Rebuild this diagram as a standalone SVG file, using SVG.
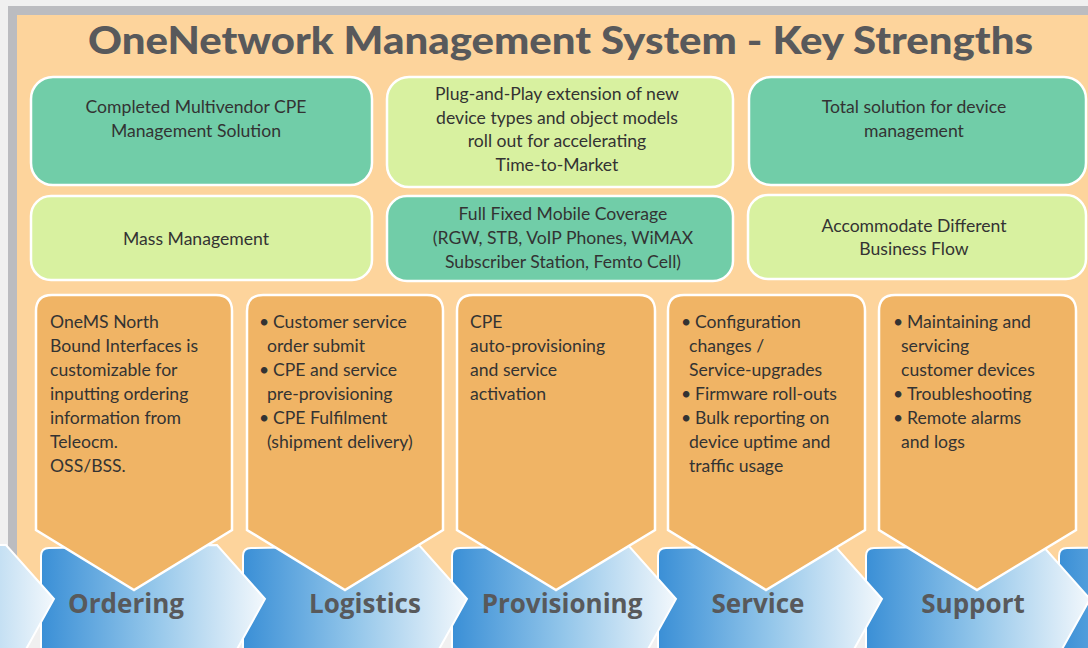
<svg xmlns="http://www.w3.org/2000/svg" width="1088" height="648" viewBox="0 0 1088 648">
<style>
.box{stroke:#ffffff;stroke-width:2.5}
.teal{fill:#71cda8}
.lime{fill:#d8f1a0}
.pent{fill:#f0b465;stroke:#ffffff;stroke-width:2.5}
.chev{fill:url(#blueGrad);stroke:#ffffff;stroke-width:2}
.t{font-family:Lato,"Open Sans",sans-serif;font-size:17.6px;fill:#333333}
.c{text-anchor:middle}
.lbl{font-family:"Open Sans","Liberation Sans",sans-serif;font-weight:bold;font-size:26px;fill:#58595b;text-anchor:middle}
.title{font-family:Lato,"Open Sans",sans-serif;font-weight:900;font-size:37px;fill:#58595b}
</style>
<defs>
<linearGradient id="blueGrad" x1="0" y1="0" x2="1" y2="0">
<stop offset="0" stop-color="#3a8fd6"/>
<stop offset="0.5" stop-color="#93c6ea"/>
<stop offset="1" stop-color="#f3f8fc"/>
</linearGradient>
</defs>
<rect x="0" y="0" width="1088" height="648" fill="#f0f0f0"/>
<rect x="8" y="6" width="1080" height="600" fill="#bbbcc0"/>
<rect x="17" y="15" width="1071" height="590" fill="#fdd49c"/>
<text class="title" x="88" y="54" textLength="945" lengthAdjust="spacingAndGlyphs">OneNetwork Management System - Key Strengths</text>

<g id="box-multivendor">
<rect class="box teal" x="31" y="77" width="341" height="108" rx="22"/>
<text class="t c" x="196" y="113">Completed Multivendor CPE</text>
<text class="t c" x="196" y="137">Management Solution</text>
</g>
<g id="box-plugandplay">
<rect class="box lime" x="387" y="77" width="346" height="110" rx="22"/>
<text class="t c" x="557" y="100">Plug-and-Play extension of new</text>
<text class="t c" x="557" y="123.5">device types and object models</text>
<text class="t c" x="557" y="147">roll out for accelerating</text>
<text class="t c" x="557" y="170.5">Time-to-Market</text>
</g>
<g id="box-total">
<rect class="box teal" x="749" y="77" width="337" height="108" rx="22"/>
<text class="t c" x="914" y="113">Total solution for device</text>
<text class="t c" x="914" y="137">management</text>
</g>
<g id="box-mass">
<rect class="box lime" x="31" y="196" width="341" height="84" rx="20"/>
<text class="t c" x="196" y="245">Mass Management</text>
</g>
<g id="box-coverage">
<rect class="box teal" x="387" y="196" width="346" height="85" rx="20"/>
<text class="t c" x="563" y="220">Full Fixed Mobile Coverage</text>
<text class="t c" x="563" y="244">(RGW, STB, VoIP Phones, WiMAX</text>
<text class="t c" x="563" y="268">Subscriber Station, Femto Cell)</text>
</g>
<g id="box-business">
<rect class="box lime" x="748" y="195" width="338" height="84" rx="20"/>
<text class="t c" x="914" y="232">Accommodate Different</text>
<text class="t c" x="914" y="255">Business Flow</text>
</g>

<g id="connectors">
<path class="chev" d="M1067,548 Q1059,548 1059,556 L1059,660 L1249,660 L1283,599 L1235,545 Z"/>
<path class="chev" d="M874,548 Q866,548 866,556 L866,660 L1056,660 L1090,599 L1042,545 Z"/>
<path class="chev" d="M666,548 Q658,548 658,556 L658,660 L848,660 L882,599 L834,545 Z"/>
<path class="chev" d="M460,548 Q452,548 452,556 L452,660 L642,660 L676,599 L628,545 Z"/>
<path class="chev" d="M251,548 Q243,548 243,556 L243,660 L433,660 L467,599 L419,545 Z"/>
<path class="chev" d="M49,548 Q41,548 41,556 L41,660 L231,660 L265,599 L217,545 Z"/>
<path class="chev" d="M-162,548 Q-170,548 -170,556 L-170,660 L20,660 L54,599 L6,545 Z"/>
</g>

<g id="stage-ordering">
<path class="pent" d="M36,530 L36,311 Q36,295 52,295 L216,295 Q232,295 232,311 L232,530 L134,590 Z"/>
<text class="t" x="50" y="328">OneMS North</text>
<text class="t" x="50" y="352">Bound Interfaces is</text>
<text class="t" x="50" y="376">customizable for</text>
<text class="t" x="50" y="400">inputting ordering</text>
<text class="t" x="50" y="424">information from</text>
<text class="t" x="50" y="448">Teleocm.</text>
<text class="t" x="50" y="472">OSS/BSS.</text>
<text class="lbl" x="126" y="613">Ordering</text>
</g>
<g id="stage-logistics">
<path class="pent" d="M247,530 L247,311 Q247,295 263,295 L427,295 Q443,295 443,311 L443,530 L345,590 Z"/>
<text class="t"><tspan x="259" y="328">•</tspan><tspan x="273" y="328">Customer service</tspan></text>
<text class="t" x="267" y="352">order submit</text>
<text class="t"><tspan x="259" y="376">•</tspan><tspan x="273" y="376">CPE and service</tspan></text>
<text class="t" x="267" y="400">pre-provisioning</text>
<text class="t"><tspan x="259" y="424">•</tspan><tspan x="273" y="424">CPE Fulfilment</tspan></text>
<text class="t" x="267" y="448">(shipment delivery)</text>
<text class="lbl" x="365" y="613">Logistics</text>
</g>
<g id="stage-provisioning">
<path class="pent" d="M457,530 L457,311 Q457,295 473,295 L639,295 Q655,295 655,311 L655,530 L556,590 Z"/>
<text class="t" x="470" y="328">CPE</text>
<text class="t" x="470" y="352">auto-provisioning</text>
<text class="t" x="470" y="376">and service</text>
<text class="t" x="470" y="400">activation</text>
<text class="lbl" x="562" y="613">Provisioning</text>
</g>
<g id="stage-service">
<path class="pent" d="M668,530 L668,311 Q668,295 684,295 L849,295 Q865,295 865,311 L865,530 L766,590 Z"/>
<text class="t"><tspan x="681" y="328">•</tspan><tspan x="695" y="328">Configuration</tspan></text>
<text class="t" x="689" y="352">changes /</text>
<text class="t" x="689" y="376">Service-upgrades</text>
<text class="t"><tspan x="681" y="400">•</tspan><tspan x="695" y="400">Firmware roll-outs</tspan></text>
<text class="t"><tspan x="681" y="424">•</tspan><tspan x="695" y="424">Bulk reporting on</tspan></text>
<text class="t" x="689" y="448">device uptime and</text>
<text class="t" x="689" y="472">traffic usage</text>
<text class="lbl" x="758" y="613">Service</text>
</g>
<g id="stage-support">
<path class="pent" d="M879,530 L879,311 Q879,295 895,295 L1060,295 Q1076,295 1076,311 L1076,530 L977,590 Z"/>
<text class="t"><tspan x="893" y="328">•</tspan><tspan x="907" y="328">Maintaining and</tspan></text>
<text class="t" x="901" y="352">servicing</text>
<text class="t" x="901" y="376">customer devices</text>
<text class="t"><tspan x="893" y="400">•</tspan><tspan x="907" y="400">Troubleshooting</tspan></text>
<text class="t"><tspan x="893" y="424">•</tspan><tspan x="907" y="424">Remote alarms</tspan></text>
<text class="t" x="901" y="448">and logs</text>
<text class="lbl" x="973" y="613">Support</text>
</g>
</svg>
